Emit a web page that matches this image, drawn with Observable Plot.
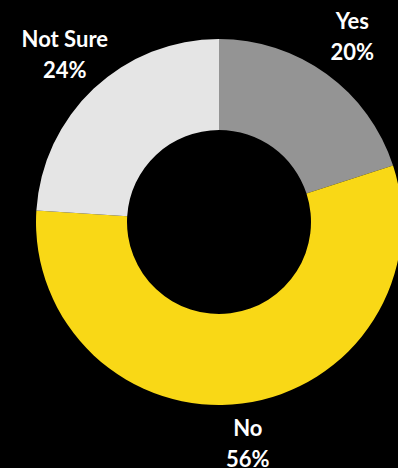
<!DOCTYPE html>
<html>
<head>
<meta charset="utf-8">
<script src="https://cdn.jsdelivr.net/npm/d3@7"></script>
<script src="https://cdn.jsdelivr.net/npm/@observablehq/plot@0.6"></script>
<style>
  html, body { margin: 0; padding: 0; background: #000; }
  #chart { width: 398px; height: 468px; overflow: hidden; }
</style>
</head>
<body>
<div id="chart"></div>
<script>
const categories = ["Yes", "No", "Not Sure"];
const values = [20, 56, 24];
const colors = ["#949494", "#F9D816", "#E5E5E5"];

const W = 398, H = 468;
const cx = 219, cy = 222, R = 183;
const innerFrac = 92 / 183;
const labelR = 1.235;

const pie = d3.pie().sort(null).value(d => d.value);
const arcs = pie(categories.map((c, i) => ({category: c, value: values[i], color: colors[i]})));

const labels = arcs.map(a => {
  const mid = (a.startAngle + a.endAngle) / 2;
  return {
    x: labelR * Math.sin(mid),
    y: labelR * Math.cos(mid),
    text: `${a.data.category}\n${a.data.value}%`
  };
});

function donut(index, scales) {
  const x0 = scales.x(0), y0 = scales.y(0);
  const rPx = scales.x(1) - scales.x(0);
  const g = d3.create("svg:g").attr("transform", `translate(${x0},${y0})`);
  const arcGen = d3.arc().innerRadius(rPx * innerFrac).outerRadius(rPx);
  g.selectAll("path").data(arcs).join("path")
    .attr("d", arcGen)
    .attr("fill", d => d.data.color);
  return g.node();
}

const plot = Plot.plot({
  width: W,
  height: H,
  margin: 0,
  x: {domain: [-cx / R, (W - cx) / R], axis: null},
  y: {domain: [-(H - cy) / R, cy / R], axis: null},
  style: {background: "#000", fontFamily: "Lato, sans-serif"},
  marks: [
    donut,
    Plot.text(labels, {
      x: "x", y: "y", text: "text",
      fill: "#fff", fontSize: 22, fontWeight: "bold",
      lineHeight: 1.4, textAnchor: "middle", lineAnchor: "middle", dy: -5
    })
  ]
});
document.getElementById("chart").appendChild(plot);
</script>
</body>
</html>
